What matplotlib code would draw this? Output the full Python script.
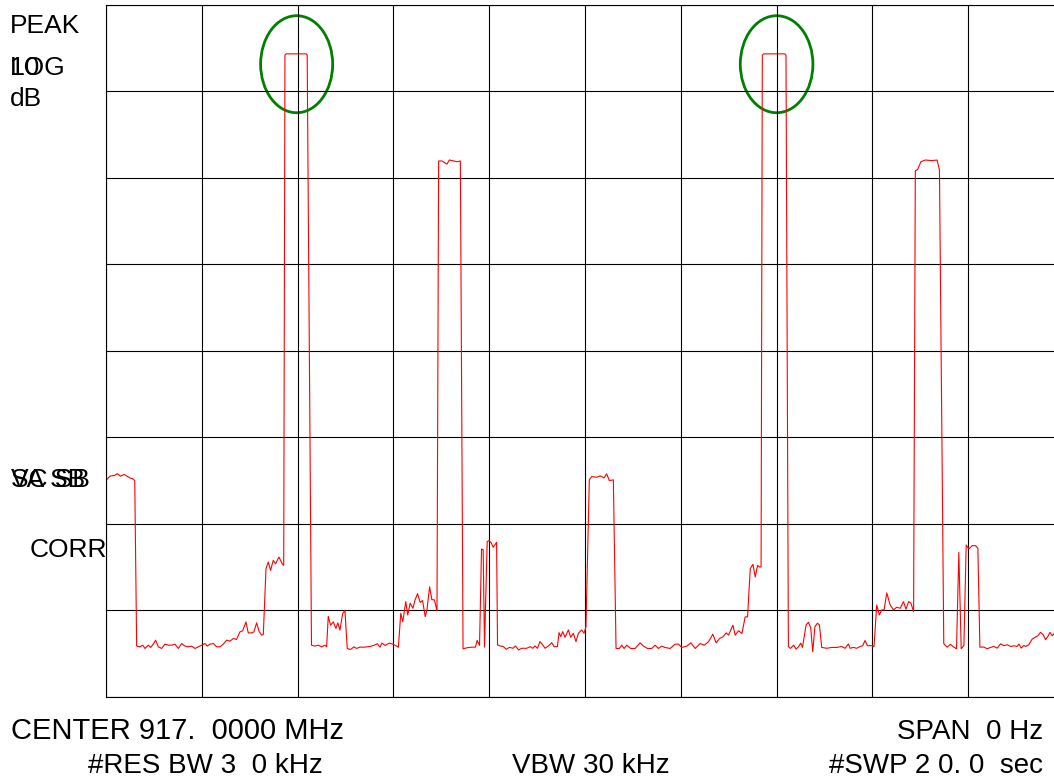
import matplotlib
matplotlib.use('Agg')
import matplotlib.pyplot as plt
from matplotlib.patches import Ellipse

# Spectrum analyser trace, zero span.
# x = sweep position in graticule divisions (10 div across),
# y = level in graticule divisions (0 = bottom, 8 = top, 10 dB/div)
sweep_div = [
    0.00, 0.04, 0.09, 0.12, 0.15, 0.19, 0.22, 0.25, 0.28, 0.30,
    0.32, 0.355, 0.383, 0.407, 0.442, 0.466, 0.494, 0.518, 0.546, 0.581,
    0.616, 0.650, 0.685, 0.720, 0.755, 0.790, 0.824, 0.859, 0.894, 0.929,
    0.963, 0.998, 1.033, 1.057, 1.085, 1.120, 1.155, 1.190, 1.224, 1.259,
    1.294, 1.329, 1.363, 1.398, 1.426, 1.461, 1.485, 1.520, 1.544, 1.572,
    1.600, 1.624, 1.642, 1.670, 1.694, 1.718, 1.746, 1.770, 1.805, 1.843,
    1.855, 1.868, 1.880, 2.090, 2.100, 2.145, 2.180, 2.216, 2.250, 2.285,
    2.303, 2.320, 2.344, 2.372, 2.400, 2.420, 2.442, 2.470, 2.494, 2.518,
    2.553, 2.588, 2.616, 2.650, 2.700, 2.755, 2.797, 2.832, 2.860, 2.880,
    2.913, 2.958, 3.000, 3.052, 3.077, 3.098, 3.129, 3.150, 3.175, 3.203,
    3.227, 3.252, 3.280, 3.304, 3.332, 3.350, 3.378, 3.402, 3.427, 3.455,
    3.472, 3.507, 3.535, 3.559, 3.584, 3.630, 3.664, 3.699, 3.727, 3.769,
    3.822, 3.857, 3.874, 3.899, 3.920, 3.937, 3.951, 3.979, 4.000, 4.021,
    4.042, 4.077, 4.087, 4.115, 4.149, 4.177, 4.212, 4.247, 4.274, 4.306,
    4.340, 4.392, 4.427, 4.455, 4.479, 4.503, 4.531, 4.559, 4.583, 4.618,
    4.653, 4.677, 4.712, 4.729, 4.747, 4.767, 4.792, 4.826, 4.851, 4.878,
    4.906, 4.931, 4.965, 4.990, 5.010, 5.045, 5.070, 5.122, 5.157, 5.199,
    5.226, 5.254, 5.296, 5.324, 5.359, 5.383, 5.408, 5.436, 5.477, 5.523,
    5.575, 5.610, 5.652, 5.697, 5.732, 5.767, 5.800, 5.836, 5.889, 5.941,
    5.976, 6.010, 6.063, 6.105, 6.150, 6.202, 6.244, 6.289, 6.334, 6.369,
    6.404, 6.439, 6.474, 6.498, 6.544, 6.568, 6.603, 6.638, 6.672, 6.697,
    6.725, 6.753, 6.777, 6.801, 6.822, 6.838, 6.851, 6.865, 7.085, 7.098,
    7.123, 7.143, 7.178, 7.203, 7.230, 7.252, 7.270, 7.308, 7.332, 7.356,
    7.377, 7.400, 7.426, 7.447, 7.471, 7.523, 7.576, 7.628, 7.680, 7.715,
    7.749, 7.767, 7.802, 7.836, 7.871, 7.899, 7.923, 7.948, 7.993, 8.017,
    8.045, 8.073, 8.098, 8.122, 8.150, 8.185, 8.220, 8.255, 8.290, 8.325,
    8.350, 8.378, 8.402, 8.430, 8.448, 8.472, 8.507, 8.552, 8.622, 8.675,
    8.700, 8.745, 8.780, 8.815, 8.850, 8.878, 8.902, 8.927, 8.955, 8.979,
    9.007, 9.042, 9.077, 9.101, 9.122, 9.164, 9.198, 9.233, 9.268, 9.303,
    9.338, 9.372, 9.407, 9.442, 9.477, 9.511, 9.529, 9.553, 9.581, 9.598,
    9.633, 9.668, 9.703, 9.727, 9.755, 9.783, 9.808, 9.832, 9.853, 9.877,
    9.901,
]
level_div = [
    2.50, 2.55, 2.56, 2.58, 2.55, 2.57, 2.55, 2.53, 2.52, 2.50,
    0.585, 0.577, 0.596, 0.558, 0.596, 0.569, 0.608, 0.654, 0.577, 0.558,
    0.608, 0.596, 0.596, 0.608, 0.558, 0.615, 0.585, 0.577, 0.585, 0.558,
    0.577, 0.596, 0.615, 0.585, 0.608, 0.615, 0.577, 0.577, 0.608, 0.654,
    0.642, 0.673, 0.662, 0.750, 0.762, 0.865, 0.738, 0.738, 0.750, 0.854,
    0.750, 0.712, 0.719, 1.480, 1.558, 1.462, 1.577, 1.538, 1.615, 1.531,
    1.520, 7.420, 7.435, 7.435, 7.420, 0.596, 0.585, 0.596, 0.577, 0.596,
    0.577, 0.930, 0.827, 0.865, 0.790, 0.854, 0.770, 0.960, 1.000, 0.558,
    0.546, 0.577, 0.558, 0.573, 0.573, 0.581, 0.593, 0.613, 0.573, 0.620,
    0.593, 0.620, 0.605, 0.573, 0.965, 0.867, 1.100, 0.945, 1.082, 1.023,
    1.121, 1.192, 1.090, 1.113, 0.926, 1.004, 1.270, 1.121, 1.121, 0.996,
    6.196, 6.196, 6.176, 6.160, 6.207, 6.196, 6.188, 6.196, 0.554, 0.566,
    0.573, 0.573, 0.652, 0.593, 1.708, 1.700, 0.573, 1.794, 1.806, 1.779,
    1.728, 1.786, 0.598, 0.587, 0.579, 0.548, 0.571, 0.560, 0.587, 0.541,
    0.560, 0.560, 0.579, 0.560, 0.587, 0.560, 0.637, 0.598, 0.560, 0.587,
    0.625, 0.579, 0.579, 0.741, 0.695, 0.753, 0.687, 0.772, 0.687, 0.734,
    0.637, 0.734, 0.772, 0.734, 0.808, 2.508, 2.546, 2.538, 2.554, 2.531,
    2.577, 2.500, 2.508, 0.558, 0.558, 0.596, 0.558, 0.596, 0.558, 0.558,
    0.623, 0.585, 0.558, 0.558, 0.596, 0.558, 0.585, 0.569, 0.558, 0.608,
    0.608, 0.569, 0.585, 0.623, 0.558, 0.615, 0.596, 0.635, 0.723, 0.623,
    0.673, 0.692, 0.738, 0.712, 0.827, 0.712, 0.762, 0.731, 0.923, 0.923,
    1.481, 1.531, 1.385, 1.519, 1.500, 1.500, 7.420, 7.435, 7.435, 7.420,
    0.580, 0.558, 0.596, 0.550, 0.580, 0.620, 0.570, 0.830, 0.860, 0.800,
    0.520, 0.810, 0.850, 0.830, 0.570, 0.560, 0.570, 0.570, 0.580, 0.560,
    0.610, 0.560, 0.570, 0.560, 0.580, 0.590, 0.650, 0.590, 0.590, 0.580,
    1.060, 0.945, 1.004, 1.004, 1.200, 1.063, 1.004, 1.035, 1.023, 1.100,
    1.012, 1.100, 1.082, 0.984, 6.082, 6.098, 6.188, 6.207, 6.200, 6.207,
    6.090, 0.613, 0.573, 0.605, 0.573, 0.554, 1.669, 0.554, 0.593, 1.755,
    1.708, 1.747, 1.747, 1.716, 0.573, 0.574, 0.554, 0.570, 0.581, 0.562,
    0.612, 0.589, 0.601, 0.581, 0.589, 0.581, 0.609, 0.562, 0.593, 0.581,
    0.601, 0.667, 0.690, 0.705, 0.744, 0.717, 0.659, 0.698, 0.744, 0.705,
    0.736,
]

# marked peaks (centre x, centre y, width, height) in divisions
marker_x = [1.99, 7.00]
marker_y = [7.315, 7.315]
marker_w = [0.752, 0.758]
marker_h = [1.122, 1.122]

W, H = 1054, 779
FONT = 'Liberation Sans'

fig = plt.figure(figsize=(W / 100, H / 100), dpi=100)
fig.patch.set_facecolor('white')

# graticule: 10 x 8 divisions, right edge runs off the picture
ax = fig.add_axes([106 / W, (H - 696.7) / H, 958 / W, 691.7 / H])
ax.set_xlim(0, 10)
ax.set_ylim(0, 8)
ax.set_xticks(range(11))
ax.set_yticks(range(9))
ax.grid(True, color='black', lw=0.8)
ax.tick_params(length=0, labelbottom=False, labelleft=False)
for s in ax.spines.values():
    s.set_color('black')
    s.set_linewidth(0.8)

# trace
ax.plot(sweep_div, level_div, color='red', lw=0.8)

# green circles round the two highest bursts
for cx, cy, w, h in zip(marker_x, marker_y, marker_w, marker_h):
    ax.add_patch(Ellipse((cx, cy), w, h, fill=False, ec='green', lw=2.0))


def label(x, y, s, size=19, ha='left'):
    fig.text(x / W, 1 - y / H, s, fontsize=size, family=FONT,
             ha=ha, va='baseline', color='black')


# left-hand annotations (some overprint each other on the original)
label(10, 33, 'PEAK')
label(10, 75, 'LOG')
label(10, 75, '10')
label(10, 106, 'dB')
label(11, 487, 'VA SB')
label(11, 487, 'SC SB')
label(30, 557, 'CORR')

# bottom settings
label(11, 739, 'CENTER 917.  0000 MHz', size=21)
label(1043, 739, 'SPAN  0 Hz', size=20, ha='right')
label(88, 773, '#RES BW 3  0 kHz', size=20)
label(512, 773, 'VBW 30 kHz', size=20)
label(1043, 773, '#SWP 2 0. 0  sec', size=20, ha='right')

fig.savefig('out.png', dpi=100)
